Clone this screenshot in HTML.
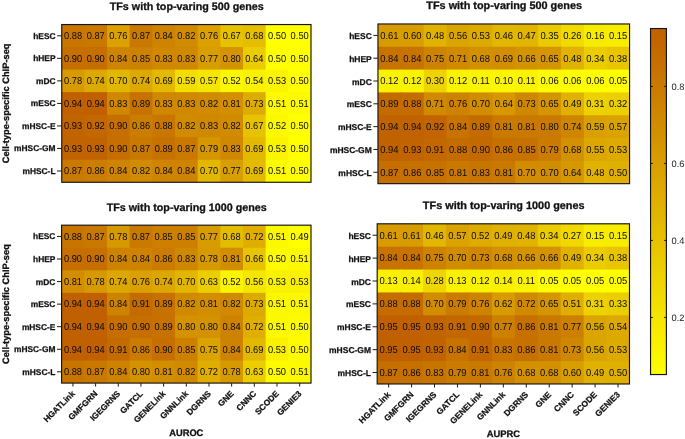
<!DOCTYPE html>
<html><head><meta charset="utf-8"><style>
html,body{margin:0;padding:0;background:#fff;width:685px;height:439px;overflow:hidden}
svg{display:block;will-change:transform}
text{font-family:'Liberation Sans', sans-serif;text-rendering:geometricPrecision}
.c{fill:#0c0c0c;text-anchor:middle}
.rl{font-weight:bold;fill:#111;stroke:#111;stroke-width:0.25px;text-anchor:end}
.tt{font-weight:bold;fill:#111;stroke:#111;stroke-width:0.3px;text-anchor:middle}
.xl{font-weight:bold;fill:#111;stroke:#111;stroke-width:0.25px;text-anchor:end}
.ax{font-weight:bold;fill:#111;stroke:#111;stroke-width:0.3px;text-anchor:middle}
.ay{font-weight:bold;fill:#111;stroke:#111;stroke-width:0.3px;text-anchor:middle}
.cb{font-size:9.3px;fill:#222}
.bd{stroke:#141414;stroke-width:1.15}
.tk{stroke:#1a1a1a;stroke-width:1}
</style></head><body>
<svg width="685" height="439" viewBox="0 0 685 439">
<rect x="61.74" y="24.54" width="23.66" height="23.53" fill="rgb(201,118,0)"/>
<rect x="84.40" y="24.54" width="23.66" height="23.53" fill="rgb(202,121,0)"/>
<rect x="107.06" y="24.54" width="23.66" height="23.53" fill="rgb(218,161,0)"/>
<rect x="129.72" y="24.54" width="23.66" height="23.53" fill="rgb(202,121,0)"/>
<rect x="152.38" y="24.54" width="23.66" height="23.53" fill="rgb(206,132,0)"/>
<rect x="175.04" y="24.54" width="23.66" height="23.53" fill="rgb(209,139,0)"/>
<rect x="197.70" y="24.54" width="23.66" height="23.53" fill="rgb(218,161,0)"/>
<rect x="220.36" y="24.54" width="23.66" height="23.53" fill="rgb(231,194,0)"/>
<rect x="243.02" y="24.54" width="23.66" height="23.53" fill="rgb(229,190,0)"/>
<rect x="265.68" y="24.54" width="23.66" height="23.53" fill="rgb(255,255,0)"/>
<rect x="288.34" y="24.54" width="22.66" height="23.53" fill="rgb(255,255,0)"/>
<rect x="61.74" y="47.07" width="23.66" height="23.53" fill="rgb(198,110,0)"/>
<rect x="84.40" y="47.07" width="23.66" height="23.53" fill="rgb(198,110,0)"/>
<rect x="107.06" y="47.07" width="23.66" height="23.53" fill="rgb(206,132,0)"/>
<rect x="129.72" y="47.07" width="23.66" height="23.53" fill="rgb(205,129,0)"/>
<rect x="152.38" y="47.07" width="23.66" height="23.53" fill="rgb(208,136,0)"/>
<rect x="175.04" y="47.07" width="23.66" height="23.53" fill="rgb(208,136,0)"/>
<rect x="197.70" y="47.07" width="23.66" height="23.53" fill="rgb(216,157,0)"/>
<rect x="220.36" y="47.07" width="23.66" height="23.53" fill="rgb(212,147,0)"/>
<rect x="243.02" y="47.07" width="23.66" height="23.53" fill="rgb(235,204,0)"/>
<rect x="265.68" y="47.07" width="23.66" height="23.53" fill="rgb(255,255,0)"/>
<rect x="288.34" y="47.07" width="22.66" height="23.53" fill="rgb(255,255,0)"/>
<rect x="61.74" y="69.61" width="23.66" height="23.53" fill="rgb(215,154,0)"/>
<rect x="84.40" y="69.61" width="23.66" height="23.53" fill="rgb(221,168,0)"/>
<rect x="107.06" y="69.61" width="23.66" height="23.53" fill="rgb(226,183,0)"/>
<rect x="129.72" y="69.61" width="23.66" height="23.53" fill="rgb(221,168,0)"/>
<rect x="152.38" y="69.61" width="23.66" height="23.53" fill="rgb(228,186,0)"/>
<rect x="175.04" y="69.61" width="23.66" height="23.53" fill="rgb(242,222,0)"/>
<rect x="197.70" y="69.61" width="23.66" height="23.53" fill="rgb(245,230,0)"/>
<rect x="220.36" y="69.61" width="23.66" height="23.53" fill="rgb(252,248,0)"/>
<rect x="243.02" y="69.61" width="23.66" height="23.53" fill="rgb(249,241,0)"/>
<rect x="265.68" y="69.61" width="23.66" height="23.53" fill="rgb(251,244,0)"/>
<rect x="288.34" y="69.61" width="22.66" height="23.53" fill="rgb(255,255,0)"/>
<rect x="61.74" y="92.14" width="23.66" height="23.53" fill="rgb(192,96,0)"/>
<rect x="84.40" y="92.14" width="23.66" height="23.53" fill="rgb(192,96,0)"/>
<rect x="107.06" y="92.14" width="23.66" height="23.53" fill="rgb(208,136,0)"/>
<rect x="129.72" y="92.14" width="23.66" height="23.53" fill="rgb(199,114,0)"/>
<rect x="152.38" y="92.14" width="23.66" height="23.53" fill="rgb(208,136,0)"/>
<rect x="175.04" y="92.14" width="23.66" height="23.53" fill="rgb(208,136,0)"/>
<rect x="197.70" y="92.14" width="23.66" height="23.53" fill="rgb(209,139,0)"/>
<rect x="220.36" y="92.14" width="23.66" height="23.53" fill="rgb(211,143,0)"/>
<rect x="243.02" y="92.14" width="23.66" height="23.53" fill="rgb(222,172,0)"/>
<rect x="265.68" y="92.14" width="23.66" height="23.53" fill="rgb(254,251,0)"/>
<rect x="288.34" y="92.14" width="22.66" height="23.53" fill="rgb(254,251,0)"/>
<rect x="61.74" y="114.67" width="23.66" height="23.53" fill="rgb(193,100,0)"/>
<rect x="84.40" y="114.67" width="23.66" height="23.53" fill="rgb(195,103,0)"/>
<rect x="107.06" y="114.67" width="23.66" height="23.53" fill="rgb(198,110,0)"/>
<rect x="129.72" y="114.67" width="23.66" height="23.53" fill="rgb(203,125,0)"/>
<rect x="152.38" y="114.67" width="23.66" height="23.53" fill="rgb(201,118,0)"/>
<rect x="175.04" y="114.67" width="23.66" height="23.53" fill="rgb(209,139,0)"/>
<rect x="197.70" y="114.67" width="23.66" height="23.53" fill="rgb(208,136,0)"/>
<rect x="220.36" y="114.67" width="23.66" height="23.53" fill="rgb(209,139,0)"/>
<rect x="243.02" y="114.67" width="23.66" height="23.53" fill="rgb(231,194,0)"/>
<rect x="265.68" y="114.67" width="23.66" height="23.53" fill="rgb(252,248,0)"/>
<rect x="288.34" y="114.67" width="22.66" height="23.53" fill="rgb(255,255,0)"/>
<rect x="61.74" y="137.20" width="23.66" height="23.53" fill="rgb(193,100,0)"/>
<rect x="84.40" y="137.20" width="23.66" height="23.53" fill="rgb(193,100,0)"/>
<rect x="107.06" y="137.20" width="23.66" height="23.53" fill="rgb(198,110,0)"/>
<rect x="129.72" y="137.20" width="23.66" height="23.53" fill="rgb(202,121,0)"/>
<rect x="152.38" y="137.20" width="23.66" height="23.53" fill="rgb(199,114,0)"/>
<rect x="175.04" y="137.20" width="23.66" height="23.53" fill="rgb(202,121,0)"/>
<rect x="197.70" y="137.20" width="23.66" height="23.53" fill="rgb(213,150,0)"/>
<rect x="220.36" y="137.20" width="23.66" height="23.53" fill="rgb(208,136,0)"/>
<rect x="243.02" y="137.20" width="23.66" height="23.53" fill="rgb(228,186,0)"/>
<rect x="265.68" y="137.20" width="23.66" height="23.53" fill="rgb(251,244,0)"/>
<rect x="288.34" y="137.20" width="22.66" height="23.53" fill="rgb(255,255,0)"/>
<rect x="61.74" y="159.74" width="23.66" height="22.53" fill="rgb(202,121,0)"/>
<rect x="84.40" y="159.74" width="23.66" height="22.53" fill="rgb(203,125,0)"/>
<rect x="107.06" y="159.74" width="23.66" height="22.53" fill="rgb(206,132,0)"/>
<rect x="129.72" y="159.74" width="23.66" height="22.53" fill="rgb(209,139,0)"/>
<rect x="152.38" y="159.74" width="23.66" height="22.53" fill="rgb(206,132,0)"/>
<rect x="175.04" y="159.74" width="23.66" height="22.53" fill="rgb(206,132,0)"/>
<rect x="197.70" y="159.74" width="23.66" height="22.53" fill="rgb(226,183,0)"/>
<rect x="220.36" y="159.74" width="23.66" height="22.53" fill="rgb(216,157,0)"/>
<rect x="243.02" y="159.74" width="23.66" height="22.53" fill="rgb(228,186,0)"/>
<rect x="265.68" y="159.74" width="23.66" height="22.53" fill="rgb(254,251,0)"/>
<rect x="288.34" y="159.74" width="22.66" height="22.53" fill="rgb(255,255,0)"/>
<text transform="translate(73.07,35.81) scale(1,1.084)" y="3.05" class="c" font-size="9.30">0.88</text>
<text transform="translate(95.73,35.81) scale(1,1.084)" y="3.05" class="c" font-size="9.30">0.87</text>
<text transform="translate(118.39,35.81) scale(1,1.084)" y="3.05" class="c" font-size="9.30">0.76</text>
<text transform="translate(141.05,35.81) scale(1,1.084)" y="3.05" class="c" font-size="9.30">0.87</text>
<text transform="translate(163.71,35.81) scale(1,1.084)" y="3.05" class="c" font-size="9.30">0.84</text>
<text transform="translate(186.37,35.81) scale(1,1.084)" y="3.05" class="c" font-size="9.30">0.82</text>
<text transform="translate(209.03,35.81) scale(1,1.084)" y="3.05" class="c" font-size="9.30">0.76</text>
<text transform="translate(231.69,35.81) scale(1,1.084)" y="3.05" class="c" font-size="9.30">0.67</text>
<text transform="translate(254.35,35.81) scale(1,1.084)" y="3.05" class="c" font-size="9.30">0.68</text>
<text transform="translate(277.01,35.81) scale(1,1.084)" y="3.05" class="c" font-size="9.30">0.50</text>
<text transform="translate(299.67,35.81) scale(1,1.084)" y="3.05" class="c" font-size="9.30">0.50</text>
<text transform="translate(73.07,58.34) scale(1,1.084)" y="3.05" class="c" font-size="9.30">0.90</text>
<text transform="translate(95.73,58.34) scale(1,1.084)" y="3.05" class="c" font-size="9.30">0.90</text>
<text transform="translate(118.39,58.34) scale(1,1.084)" y="3.05" class="c" font-size="9.30">0.84</text>
<text transform="translate(141.05,58.34) scale(1,1.084)" y="3.05" class="c" font-size="9.30">0.85</text>
<text transform="translate(163.71,58.34) scale(1,1.084)" y="3.05" class="c" font-size="9.30">0.83</text>
<text transform="translate(186.37,58.34) scale(1,1.084)" y="3.05" class="c" font-size="9.30">0.83</text>
<text transform="translate(209.03,58.34) scale(1,1.084)" y="3.05" class="c" font-size="9.30">0.77</text>
<text transform="translate(231.69,58.34) scale(1,1.084)" y="3.05" class="c" font-size="9.30">0.80</text>
<text transform="translate(254.35,58.34) scale(1,1.084)" y="3.05" class="c" font-size="9.30">0.64</text>
<text transform="translate(277.01,58.34) scale(1,1.084)" y="3.05" class="c" font-size="9.30">0.50</text>
<text transform="translate(299.67,58.34) scale(1,1.084)" y="3.05" class="c" font-size="9.30">0.50</text>
<text transform="translate(73.07,80.87) scale(1,1.084)" y="3.05" class="c" font-size="9.30">0.78</text>
<text transform="translate(95.73,80.87) scale(1,1.084)" y="3.05" class="c" font-size="9.30">0.74</text>
<text transform="translate(118.39,80.87) scale(1,1.084)" y="3.05" class="c" font-size="9.30">0.70</text>
<text transform="translate(141.05,80.87) scale(1,1.084)" y="3.05" class="c" font-size="9.30">0.74</text>
<text transform="translate(163.71,80.87) scale(1,1.084)" y="3.05" class="c" font-size="9.30">0.69</text>
<text transform="translate(186.37,80.87) scale(1,1.084)" y="3.05" class="c" font-size="9.30">0.59</text>
<text transform="translate(209.03,80.87) scale(1,1.084)" y="3.05" class="c" font-size="9.30">0.57</text>
<text transform="translate(231.69,80.87) scale(1,1.084)" y="3.05" class="c" font-size="9.30">0.52</text>
<text transform="translate(254.35,80.87) scale(1,1.084)" y="3.05" class="c" font-size="9.30">0.54</text>
<text transform="translate(277.01,80.87) scale(1,1.084)" y="3.05" class="c" font-size="9.30">0.53</text>
<text transform="translate(299.67,80.87) scale(1,1.084)" y="3.05" class="c" font-size="9.30">0.50</text>
<text transform="translate(73.07,103.41) scale(1,1.084)" y="3.05" class="c" font-size="9.30">0.94</text>
<text transform="translate(95.73,103.41) scale(1,1.084)" y="3.05" class="c" font-size="9.30">0.94</text>
<text transform="translate(118.39,103.41) scale(1,1.084)" y="3.05" class="c" font-size="9.30">0.83</text>
<text transform="translate(141.05,103.41) scale(1,1.084)" y="3.05" class="c" font-size="9.30">0.89</text>
<text transform="translate(163.71,103.41) scale(1,1.084)" y="3.05" class="c" font-size="9.30">0.83</text>
<text transform="translate(186.37,103.41) scale(1,1.084)" y="3.05" class="c" font-size="9.30">0.83</text>
<text transform="translate(209.03,103.41) scale(1,1.084)" y="3.05" class="c" font-size="9.30">0.82</text>
<text transform="translate(231.69,103.41) scale(1,1.084)" y="3.05" class="c" font-size="9.30">0.81</text>
<text transform="translate(254.35,103.41) scale(1,1.084)" y="3.05" class="c" font-size="9.30">0.73</text>
<text transform="translate(277.01,103.41) scale(1,1.084)" y="3.05" class="c" font-size="9.30">0.51</text>
<text transform="translate(299.67,103.41) scale(1,1.084)" y="3.05" class="c" font-size="9.30">0.51</text>
<text transform="translate(73.07,125.94) scale(1,1.084)" y="3.05" class="c" font-size="9.30">0.93</text>
<text transform="translate(95.73,125.94) scale(1,1.084)" y="3.05" class="c" font-size="9.30">0.92</text>
<text transform="translate(118.39,125.94) scale(1,1.084)" y="3.05" class="c" font-size="9.30">0.90</text>
<text transform="translate(141.05,125.94) scale(1,1.084)" y="3.05" class="c" font-size="9.30">0.86</text>
<text transform="translate(163.71,125.94) scale(1,1.084)" y="3.05" class="c" font-size="9.30">0.88</text>
<text transform="translate(186.37,125.94) scale(1,1.084)" y="3.05" class="c" font-size="9.30">0.82</text>
<text transform="translate(209.03,125.94) scale(1,1.084)" y="3.05" class="c" font-size="9.30">0.83</text>
<text transform="translate(231.69,125.94) scale(1,1.084)" y="3.05" class="c" font-size="9.30">0.82</text>
<text transform="translate(254.35,125.94) scale(1,1.084)" y="3.05" class="c" font-size="9.30">0.67</text>
<text transform="translate(277.01,125.94) scale(1,1.084)" y="3.05" class="c" font-size="9.30">0.52</text>
<text transform="translate(299.67,125.94) scale(1,1.084)" y="3.05" class="c" font-size="9.30">0.50</text>
<text transform="translate(73.07,148.47) scale(1,1.084)" y="3.05" class="c" font-size="9.30">0.93</text>
<text transform="translate(95.73,148.47) scale(1,1.084)" y="3.05" class="c" font-size="9.30">0.93</text>
<text transform="translate(118.39,148.47) scale(1,1.084)" y="3.05" class="c" font-size="9.30">0.90</text>
<text transform="translate(141.05,148.47) scale(1,1.084)" y="3.05" class="c" font-size="9.30">0.87</text>
<text transform="translate(163.71,148.47) scale(1,1.084)" y="3.05" class="c" font-size="9.30">0.89</text>
<text transform="translate(186.37,148.47) scale(1,1.084)" y="3.05" class="c" font-size="9.30">0.87</text>
<text transform="translate(209.03,148.47) scale(1,1.084)" y="3.05" class="c" font-size="9.30">0.79</text>
<text transform="translate(231.69,148.47) scale(1,1.084)" y="3.05" class="c" font-size="9.30">0.83</text>
<text transform="translate(254.35,148.47) scale(1,1.084)" y="3.05" class="c" font-size="9.30">0.69</text>
<text transform="translate(277.01,148.47) scale(1,1.084)" y="3.05" class="c" font-size="9.30">0.53</text>
<text transform="translate(299.67,148.47) scale(1,1.084)" y="3.05" class="c" font-size="9.30">0.50</text>
<text transform="translate(73.07,171.00) scale(1,1.084)" y="3.05" class="c" font-size="9.30">0.87</text>
<text transform="translate(95.73,171.00) scale(1,1.084)" y="3.05" class="c" font-size="9.30">0.86</text>
<text transform="translate(118.39,171.00) scale(1,1.084)" y="3.05" class="c" font-size="9.30">0.84</text>
<text transform="translate(141.05,171.00) scale(1,1.084)" y="3.05" class="c" font-size="9.30">0.82</text>
<text transform="translate(163.71,171.00) scale(1,1.084)" y="3.05" class="c" font-size="9.30">0.84</text>
<text transform="translate(186.37,171.00) scale(1,1.084)" y="3.05" class="c" font-size="9.30">0.84</text>
<text transform="translate(209.03,171.00) scale(1,1.084)" y="3.05" class="c" font-size="9.30">0.70</text>
<text transform="translate(231.69,171.00) scale(1,1.084)" y="3.05" class="c" font-size="9.30">0.77</text>
<text transform="translate(254.35,171.00) scale(1,1.084)" y="3.05" class="c" font-size="9.30">0.69</text>
<text transform="translate(277.01,171.00) scale(1,1.084)" y="3.05" class="c" font-size="9.30">0.51</text>
<text transform="translate(299.67,171.00) scale(1,1.084)" y="3.05" class="c" font-size="9.30">0.50</text>
<rect x="61.74" y="24.54" width="249.26" height="157.73" class="bd" fill="none"/>
<line x1="57.14" y1="35.81" x2="61.74" y2="35.81" class="tk"/>
<text x="55.54" y="38.81" class="rl" font-size="8.40">hESC</text>
<line x1="57.14" y1="58.34" x2="61.74" y2="58.34" class="tk"/>
<text x="55.54" y="61.35" class="rl" font-size="8.40">hHEP</text>
<line x1="57.14" y1="80.87" x2="61.74" y2="80.87" class="tk"/>
<text x="55.54" y="83.88" class="rl" font-size="8.40">mDC</text>
<line x1="57.14" y1="103.41" x2="61.74" y2="103.41" class="tk"/>
<text x="55.54" y="106.41" class="rl" font-size="8.40">mESC</text>
<line x1="57.14" y1="125.94" x2="61.74" y2="125.94" class="tk"/>
<text x="55.54" y="128.95" class="rl" font-size="8.40">mHSC-E</text>
<line x1="57.14" y1="148.47" x2="61.74" y2="148.47" class="tk"/>
<text x="55.54" y="151.48" class="rl" font-size="8.40">mHSC-GM</text>
<line x1="57.14" y1="171.00" x2="61.74" y2="171.00" class="tk"/>
<text x="55.54" y="174.01" class="rl" font-size="8.40">mHSC-L</text>
<text x="186.77" y="9.70" class="tt" font-size="10.75">TFs with top-varing 500 genes</text>
<text transform="translate(9.10,103.41) rotate(-90)" class="ay" font-size="9.30">Cell-type-specific ChIP-seq</text>
<rect x="377.97" y="23.97" width="23.87" height="23.81" fill="rgb(216,156,0)"/>
<rect x="400.84" y="23.97" width="23.87" height="23.81" fill="rgb(216,158,0)"/>
<rect x="423.72" y="23.97" width="23.87" height="23.81" fill="rgb(225,179,0)"/>
<rect x="446.59" y="23.97" width="23.87" height="23.81" fill="rgb(219,165,0)"/>
<rect x="469.46" y="23.97" width="23.87" height="23.81" fill="rgb(221,170,0)"/>
<rect x="492.33" y="23.97" width="23.87" height="23.81" fill="rgb(226,183,0)"/>
<rect x="515.21" y="23.97" width="23.87" height="23.81" fill="rgb(226,181,0)"/>
<rect x="538.08" y="23.97" width="23.87" height="23.81" fill="rgb(234,202,0)"/>
<rect x="560.95" y="23.97" width="23.87" height="23.81" fill="rgb(240,218,0)"/>
<rect x="583.82" y="23.97" width="23.87" height="23.81" fill="rgb(247,236,0)"/>
<rect x="606.70" y="23.97" width="22.87" height="23.81" fill="rgb(248,237,0)"/>
<rect x="377.97" y="46.78" width="23.87" height="23.81" fill="rgb(200,115,0)"/>
<rect x="400.84" y="46.78" width="23.87" height="23.81" fill="rgb(200,115,0)"/>
<rect x="423.72" y="46.78" width="23.87" height="23.81" fill="rgb(206,131,0)"/>
<rect x="446.59" y="46.78" width="23.87" height="23.81" fill="rgb(209,138,0)"/>
<rect x="469.46" y="46.78" width="23.87" height="23.81" fill="rgb(211,144,0)"/>
<rect x="492.33" y="46.78" width="23.87" height="23.81" fill="rgb(210,142,0)"/>
<rect x="515.21" y="46.78" width="23.87" height="23.81" fill="rgb(212,147,0)"/>
<rect x="538.08" y="46.78" width="23.87" height="23.81" fill="rgb(213,149,0)"/>
<rect x="560.95" y="46.78" width="23.87" height="23.81" fill="rgb(225,179,0)"/>
<rect x="583.82" y="46.78" width="23.87" height="23.81" fill="rgb(235,204,0)"/>
<rect x="606.70" y="46.78" width="22.87" height="23.81" fill="rgb(232,197,0)"/>
<rect x="377.97" y="69.60" width="23.87" height="23.81" fill="rgb(250,243,0)"/>
<rect x="400.84" y="69.60" width="23.87" height="23.81" fill="rgb(250,243,0)"/>
<rect x="423.72" y="69.60" width="23.87" height="23.81" fill="rgb(238,211,0)"/>
<rect x="446.59" y="69.60" width="23.87" height="23.81" fill="rgb(250,243,0)"/>
<rect x="469.46" y="69.60" width="23.87" height="23.81" fill="rgb(251,244,0)"/>
<rect x="492.33" y="69.60" width="23.87" height="23.81" fill="rgb(252,246,0)"/>
<rect x="515.21" y="69.60" width="23.87" height="23.81" fill="rgb(251,244,0)"/>
<rect x="538.08" y="69.60" width="23.87" height="23.81" fill="rgb(254,253,0)"/>
<rect x="560.95" y="69.60" width="23.87" height="23.81" fill="rgb(254,253,0)"/>
<rect x="583.82" y="69.60" width="23.87" height="23.81" fill="rgb(254,253,0)"/>
<rect x="606.70" y="69.60" width="22.87" height="23.81" fill="rgb(255,255,0)"/>
<rect x="377.97" y="92.41" width="23.87" height="23.81" fill="rgb(196,107,0)"/>
<rect x="400.84" y="92.41" width="23.87" height="23.81" fill="rgb(197,108,0)"/>
<rect x="423.72" y="92.41" width="23.87" height="23.81" fill="rgb(209,138,0)"/>
<rect x="446.59" y="92.41" width="23.87" height="23.81" fill="rgb(205,130,0)"/>
<rect x="469.46" y="92.41" width="23.87" height="23.81" fill="rgb(210,140,0)"/>
<rect x="492.33" y="92.41" width="23.87" height="23.81" fill="rgb(214,151,0)"/>
<rect x="515.21" y="92.41" width="23.87" height="23.81" fill="rgb(207,135,0)"/>
<rect x="538.08" y="92.41" width="23.87" height="23.81" fill="rgb(213,149,0)"/>
<rect x="560.95" y="92.41" width="23.87" height="23.81" fill="rgb(224,177,0)"/>
<rect x="583.82" y="92.41" width="23.87" height="23.81" fill="rgb(237,209,0)"/>
<rect x="606.70" y="92.41" width="22.87" height="23.81" fill="rgb(236,207,0)"/>
<rect x="377.97" y="115.22" width="23.87" height="23.81" fill="rgb(193,98,0)"/>
<rect x="400.84" y="115.22" width="23.87" height="23.81" fill="rgb(193,98,0)"/>
<rect x="423.72" y="115.22" width="23.87" height="23.81" fill="rgb(194,101,0)"/>
<rect x="446.59" y="115.22" width="23.87" height="23.81" fill="rgb(200,115,0)"/>
<rect x="469.46" y="115.22" width="23.87" height="23.81" fill="rgb(196,107,0)"/>
<rect x="492.33" y="115.22" width="23.87" height="23.81" fill="rgb(202,121,0)"/>
<rect x="515.21" y="115.22" width="23.87" height="23.81" fill="rgb(202,121,0)"/>
<rect x="538.08" y="115.22" width="23.87" height="23.81" fill="rgb(202,122,0)"/>
<rect x="560.95" y="115.22" width="23.87" height="23.81" fill="rgb(207,133,0)"/>
<rect x="583.82" y="115.22" width="23.87" height="23.81" fill="rgb(217,160,0)"/>
<rect x="606.70" y="115.22" width="22.87" height="23.81" fill="rgb(219,163,0)"/>
<rect x="377.97" y="138.03" width="23.87" height="23.81" fill="rgb(193,98,0)"/>
<rect x="400.84" y="138.03" width="23.87" height="23.81" fill="rgb(193,100,0)"/>
<rect x="423.72" y="138.03" width="23.87" height="23.81" fill="rgb(195,103,0)"/>
<rect x="446.59" y="138.03" width="23.87" height="23.81" fill="rgb(197,108,0)"/>
<rect x="469.46" y="138.03" width="23.87" height="23.81" fill="rgb(196,105,0)"/>
<rect x="492.33" y="138.03" width="23.87" height="23.81" fill="rgb(198,112,0)"/>
<rect x="515.21" y="138.03" width="23.87" height="23.81" fill="rgb(199,114,0)"/>
<rect x="538.08" y="138.03" width="23.87" height="23.81" fill="rgb(203,124,0)"/>
<rect x="560.95" y="138.03" width="23.87" height="23.81" fill="rgb(211,144,0)"/>
<rect x="583.82" y="138.03" width="23.87" height="23.81" fill="rgb(220,167,0)"/>
<rect x="606.70" y="138.03" width="22.87" height="23.81" fill="rgb(221,170,0)"/>
<rect x="377.97" y="160.85" width="23.87" height="22.81" fill="rgb(198,110,0)"/>
<rect x="400.84" y="160.85" width="23.87" height="22.81" fill="rgb(198,112,0)"/>
<rect x="423.72" y="160.85" width="23.87" height="22.81" fill="rgb(199,114,0)"/>
<rect x="446.59" y="160.85" width="23.87" height="22.81" fill="rgb(202,121,0)"/>
<rect x="469.46" y="160.85" width="23.87" height="22.81" fill="rgb(200,117,0)"/>
<rect x="492.33" y="160.85" width="23.87" height="22.81" fill="rgb(202,121,0)"/>
<rect x="515.21" y="160.85" width="23.87" height="22.81" fill="rgb(210,140,0)"/>
<rect x="538.08" y="160.85" width="23.87" height="22.81" fill="rgb(210,140,0)"/>
<rect x="560.95" y="160.85" width="23.87" height="22.81" fill="rgb(214,151,0)"/>
<rect x="583.82" y="160.85" width="23.87" height="22.81" fill="rgb(225,179,0)"/>
<rect x="606.70" y="160.85" width="22.87" height="22.81" fill="rgb(224,176,0)"/>
<text transform="translate(389.41,35.38) scale(1,1.084)" y="3.09" class="c" font-size="9.39">0.61</text>
<text transform="translate(412.28,35.38) scale(1,1.084)" y="3.09" class="c" font-size="9.39">0.60</text>
<text transform="translate(435.15,35.38) scale(1,1.084)" y="3.09" class="c" font-size="9.39">0.48</text>
<text transform="translate(458.02,35.38) scale(1,1.084)" y="3.09" class="c" font-size="9.39">0.56</text>
<text transform="translate(480.90,35.38) scale(1,1.084)" y="3.09" class="c" font-size="9.39">0.53</text>
<text transform="translate(503.77,35.38) scale(1,1.084)" y="3.09" class="c" font-size="9.39">0.46</text>
<text transform="translate(526.64,35.38) scale(1,1.084)" y="3.09" class="c" font-size="9.39">0.47</text>
<text transform="translate(549.52,35.38) scale(1,1.084)" y="3.09" class="c" font-size="9.39">0.35</text>
<text transform="translate(572.39,35.38) scale(1,1.084)" y="3.09" class="c" font-size="9.39">0.26</text>
<text transform="translate(595.26,35.38) scale(1,1.084)" y="3.09" class="c" font-size="9.39">0.16</text>
<text transform="translate(618.13,35.38) scale(1,1.084)" y="3.09" class="c" font-size="9.39">0.15</text>
<text transform="translate(389.41,58.19) scale(1,1.084)" y="3.09" class="c" font-size="9.39">0.84</text>
<text transform="translate(412.28,58.19) scale(1,1.084)" y="3.09" class="c" font-size="9.39">0.84</text>
<text transform="translate(435.15,58.19) scale(1,1.084)" y="3.09" class="c" font-size="9.39">0.75</text>
<text transform="translate(458.02,58.19) scale(1,1.084)" y="3.09" class="c" font-size="9.39">0.71</text>
<text transform="translate(480.90,58.19) scale(1,1.084)" y="3.09" class="c" font-size="9.39">0.68</text>
<text transform="translate(503.77,58.19) scale(1,1.084)" y="3.09" class="c" font-size="9.39">0.69</text>
<text transform="translate(526.64,58.19) scale(1,1.084)" y="3.09" class="c" font-size="9.39">0.66</text>
<text transform="translate(549.52,58.19) scale(1,1.084)" y="3.09" class="c" font-size="9.39">0.65</text>
<text transform="translate(572.39,58.19) scale(1,1.084)" y="3.09" class="c" font-size="9.39">0.48</text>
<text transform="translate(595.26,58.19) scale(1,1.084)" y="3.09" class="c" font-size="9.39">0.34</text>
<text transform="translate(618.13,58.19) scale(1,1.084)" y="3.09" class="c" font-size="9.39">0.38</text>
<text transform="translate(389.41,81.00) scale(1,1.084)" y="3.09" class="c" font-size="9.39">0.12</text>
<text transform="translate(412.28,81.00) scale(1,1.084)" y="3.09" class="c" font-size="9.39">0.12</text>
<text transform="translate(435.15,81.00) scale(1,1.084)" y="3.09" class="c" font-size="9.39">0.30</text>
<text transform="translate(458.02,81.00) scale(1,1.084)" y="3.09" class="c" font-size="9.39">0.12</text>
<text transform="translate(480.90,81.00) scale(1,1.084)" y="3.09" class="c" font-size="9.39">0.11</text>
<text transform="translate(503.77,81.00) scale(1,1.084)" y="3.09" class="c" font-size="9.39">0.10</text>
<text transform="translate(526.64,81.00) scale(1,1.084)" y="3.09" class="c" font-size="9.39">0.11</text>
<text transform="translate(549.52,81.00) scale(1,1.084)" y="3.09" class="c" font-size="9.39">0.06</text>
<text transform="translate(572.39,81.00) scale(1,1.084)" y="3.09" class="c" font-size="9.39">0.06</text>
<text transform="translate(595.26,81.00) scale(1,1.084)" y="3.09" class="c" font-size="9.39">0.06</text>
<text transform="translate(618.13,81.00) scale(1,1.084)" y="3.09" class="c" font-size="9.39">0.05</text>
<text transform="translate(389.41,103.81) scale(1,1.084)" y="3.09" class="c" font-size="9.39">0.89</text>
<text transform="translate(412.28,103.81) scale(1,1.084)" y="3.09" class="c" font-size="9.39">0.88</text>
<text transform="translate(435.15,103.81) scale(1,1.084)" y="3.09" class="c" font-size="9.39">0.71</text>
<text transform="translate(458.02,103.81) scale(1,1.084)" y="3.09" class="c" font-size="9.39">0.76</text>
<text transform="translate(480.90,103.81) scale(1,1.084)" y="3.09" class="c" font-size="9.39">0.70</text>
<text transform="translate(503.77,103.81) scale(1,1.084)" y="3.09" class="c" font-size="9.39">0.64</text>
<text transform="translate(526.64,103.81) scale(1,1.084)" y="3.09" class="c" font-size="9.39">0.73</text>
<text transform="translate(549.52,103.81) scale(1,1.084)" y="3.09" class="c" font-size="9.39">0.65</text>
<text transform="translate(572.39,103.81) scale(1,1.084)" y="3.09" class="c" font-size="9.39">0.49</text>
<text transform="translate(595.26,103.81) scale(1,1.084)" y="3.09" class="c" font-size="9.39">0.31</text>
<text transform="translate(618.13,103.81) scale(1,1.084)" y="3.09" class="c" font-size="9.39">0.32</text>
<text transform="translate(389.41,126.63) scale(1,1.084)" y="3.09" class="c" font-size="9.39">0.94</text>
<text transform="translate(412.28,126.63) scale(1,1.084)" y="3.09" class="c" font-size="9.39">0.94</text>
<text transform="translate(435.15,126.63) scale(1,1.084)" y="3.09" class="c" font-size="9.39">0.92</text>
<text transform="translate(458.02,126.63) scale(1,1.084)" y="3.09" class="c" font-size="9.39">0.84</text>
<text transform="translate(480.90,126.63) scale(1,1.084)" y="3.09" class="c" font-size="9.39">0.89</text>
<text transform="translate(503.77,126.63) scale(1,1.084)" y="3.09" class="c" font-size="9.39">0.81</text>
<text transform="translate(526.64,126.63) scale(1,1.084)" y="3.09" class="c" font-size="9.39">0.81</text>
<text transform="translate(549.52,126.63) scale(1,1.084)" y="3.09" class="c" font-size="9.39">0.80</text>
<text transform="translate(572.39,126.63) scale(1,1.084)" y="3.09" class="c" font-size="9.39">0.74</text>
<text transform="translate(595.26,126.63) scale(1,1.084)" y="3.09" class="c" font-size="9.39">0.59</text>
<text transform="translate(618.13,126.63) scale(1,1.084)" y="3.09" class="c" font-size="9.39">0.57</text>
<text transform="translate(389.41,149.44) scale(1,1.084)" y="3.09" class="c" font-size="9.39">0.94</text>
<text transform="translate(412.28,149.44) scale(1,1.084)" y="3.09" class="c" font-size="9.39">0.93</text>
<text transform="translate(435.15,149.44) scale(1,1.084)" y="3.09" class="c" font-size="9.39">0.91</text>
<text transform="translate(458.02,149.44) scale(1,1.084)" y="3.09" class="c" font-size="9.39">0.88</text>
<text transform="translate(480.90,149.44) scale(1,1.084)" y="3.09" class="c" font-size="9.39">0.90</text>
<text transform="translate(503.77,149.44) scale(1,1.084)" y="3.09" class="c" font-size="9.39">0.86</text>
<text transform="translate(526.64,149.44) scale(1,1.084)" y="3.09" class="c" font-size="9.39">0.85</text>
<text transform="translate(549.52,149.44) scale(1,1.084)" y="3.09" class="c" font-size="9.39">0.79</text>
<text transform="translate(572.39,149.44) scale(1,1.084)" y="3.09" class="c" font-size="9.39">0.68</text>
<text transform="translate(595.26,149.44) scale(1,1.084)" y="3.09" class="c" font-size="9.39">0.55</text>
<text transform="translate(618.13,149.44) scale(1,1.084)" y="3.09" class="c" font-size="9.39">0.53</text>
<text transform="translate(389.41,172.25) scale(1,1.084)" y="3.09" class="c" font-size="9.39">0.87</text>
<text transform="translate(412.28,172.25) scale(1,1.084)" y="3.09" class="c" font-size="9.39">0.86</text>
<text transform="translate(435.15,172.25) scale(1,1.084)" y="3.09" class="c" font-size="9.39">0.85</text>
<text transform="translate(458.02,172.25) scale(1,1.084)" y="3.09" class="c" font-size="9.39">0.81</text>
<text transform="translate(480.90,172.25) scale(1,1.084)" y="3.09" class="c" font-size="9.39">0.83</text>
<text transform="translate(503.77,172.25) scale(1,1.084)" y="3.09" class="c" font-size="9.39">0.81</text>
<text transform="translate(526.64,172.25) scale(1,1.084)" y="3.09" class="c" font-size="9.39">0.70</text>
<text transform="translate(549.52,172.25) scale(1,1.084)" y="3.09" class="c" font-size="9.39">0.70</text>
<text transform="translate(572.39,172.25) scale(1,1.084)" y="3.09" class="c" font-size="9.39">0.64</text>
<text transform="translate(595.26,172.25) scale(1,1.084)" y="3.09" class="c" font-size="9.39">0.48</text>
<text transform="translate(618.13,172.25) scale(1,1.084)" y="3.09" class="c" font-size="9.39">0.50</text>
<rect x="377.97" y="23.97" width="251.60" height="159.69" class="bd" fill="none"/>
<line x1="373.37" y1="35.38" x2="377.97" y2="35.38" class="tk"/>
<text x="371.77" y="38.91" class="rl" font-size="8.48">hESC</text>
<line x1="373.37" y1="58.19" x2="377.97" y2="58.19" class="tk"/>
<text x="371.77" y="61.73" class="rl" font-size="8.48">hHEP</text>
<line x1="373.37" y1="81.00" x2="377.97" y2="81.00" class="tk"/>
<text x="371.77" y="84.54" class="rl" font-size="8.48">mDC</text>
<line x1="373.37" y1="103.81" x2="377.97" y2="103.81" class="tk"/>
<text x="371.77" y="107.35" class="rl" font-size="8.48">mESC</text>
<line x1="373.37" y1="126.63" x2="377.97" y2="126.63" class="tk"/>
<text x="371.77" y="130.17" class="rl" font-size="8.48">mHSC-E</text>
<line x1="373.37" y1="149.44" x2="377.97" y2="149.44" class="tk"/>
<text x="371.77" y="152.98" class="rl" font-size="8.48">mHSC-GM</text>
<line x1="373.37" y1="172.25" x2="377.97" y2="172.25" class="tk"/>
<text x="371.77" y="175.79" class="rl" font-size="8.48">mHSC-L</text>
<text x="504.17" y="9.30" class="tt" font-size="10.86">TFs with top-varing 500 genes</text>
<rect x="61.60" y="225.18" width="23.67" height="23.56" fill="rgb(200,117,0)"/>
<rect x="84.27" y="225.18" width="23.67" height="23.56" fill="rgb(202,121,0)"/>
<rect x="106.95" y="225.18" width="23.67" height="23.56" fill="rgb(214,153,0)"/>
<rect x="129.62" y="225.18" width="23.67" height="23.56" fill="rgb(202,121,0)"/>
<rect x="152.29" y="225.18" width="23.67" height="23.56" fill="rgb(205,128,0)"/>
<rect x="174.96" y="225.18" width="23.67" height="23.56" fill="rgb(205,128,0)"/>
<rect x="197.64" y="225.18" width="23.67" height="23.56" fill="rgb(216,156,0)"/>
<rect x="220.31" y="225.18" width="23.67" height="23.56" fill="rgb(228,188,0)"/>
<rect x="242.98" y="225.18" width="23.67" height="23.56" fill="rgb(223,174,0)"/>
<rect x="265.65" y="225.18" width="23.67" height="23.56" fill="rgb(252,248,0)"/>
<rect x="288.33" y="225.18" width="22.67" height="23.56" fill="rgb(255,255,0)"/>
<rect x="61.60" y="247.74" width="23.67" height="23.56" fill="rgb(198,110,0)"/>
<rect x="84.27" y="247.74" width="23.67" height="23.56" fill="rgb(198,110,0)"/>
<rect x="106.95" y="247.74" width="23.67" height="23.56" fill="rgb(206,131,0)"/>
<rect x="129.62" y="247.74" width="23.67" height="23.56" fill="rgb(206,131,0)"/>
<rect x="152.29" y="247.74" width="23.67" height="23.56" fill="rgb(203,124,0)"/>
<rect x="174.96" y="247.74" width="23.67" height="23.56" fill="rgb(207,135,0)"/>
<rect x="197.64" y="247.74" width="23.67" height="23.56" fill="rgb(214,153,0)"/>
<rect x="220.31" y="247.74" width="23.67" height="23.56" fill="rgb(210,142,0)"/>
<rect x="242.98" y="247.74" width="23.67" height="23.56" fill="rgb(231,195,0)"/>
<rect x="265.65" y="247.74" width="23.67" height="23.56" fill="rgb(254,251,0)"/>
<rect x="288.33" y="247.74" width="22.67" height="23.56" fill="rgb(252,248,0)"/>
<rect x="61.60" y="270.29" width="23.67" height="23.56" fill="rgb(210,142,0)"/>
<rect x="84.27" y="270.29" width="23.67" height="23.56" fill="rgb(214,153,0)"/>
<rect x="106.95" y="270.29" width="23.67" height="23.56" fill="rgb(220,167,0)"/>
<rect x="129.62" y="270.29" width="23.67" height="23.56" fill="rgb(217,160,0)"/>
<rect x="152.29" y="270.29" width="23.67" height="23.56" fill="rgb(220,167,0)"/>
<rect x="174.96" y="270.29" width="23.67" height="23.56" fill="rgb(226,181,0)"/>
<rect x="197.64" y="270.29" width="23.67" height="23.56" fill="rgb(235,206,0)"/>
<rect x="220.31" y="270.29" width="23.67" height="23.56" fill="rgb(251,244,0)"/>
<rect x="242.98" y="270.29" width="23.67" height="23.56" fill="rgb(245,230,0)"/>
<rect x="265.65" y="270.29" width="23.67" height="23.56" fill="rgb(249,241,0)"/>
<rect x="288.33" y="270.29" width="22.67" height="23.56" fill="rgb(249,241,0)"/>
<rect x="61.60" y="292.85" width="23.67" height="23.56" fill="rgb(192,96,0)"/>
<rect x="84.27" y="292.85" width="23.67" height="23.56" fill="rgb(192,96,0)"/>
<rect x="106.95" y="292.85" width="23.67" height="23.56" fill="rgb(206,131,0)"/>
<rect x="129.62" y="292.85" width="23.67" height="23.56" fill="rgb(196,107,0)"/>
<rect x="152.29" y="292.85" width="23.67" height="23.56" fill="rgb(199,114,0)"/>
<rect x="174.96" y="292.85" width="23.67" height="23.56" fill="rgb(209,138,0)"/>
<rect x="197.64" y="292.85" width="23.67" height="23.56" fill="rgb(210,142,0)"/>
<rect x="220.31" y="292.85" width="23.67" height="23.56" fill="rgb(209,138,0)"/>
<rect x="242.98" y="292.85" width="23.67" height="23.56" fill="rgb(221,170,0)"/>
<rect x="265.65" y="292.85" width="23.67" height="23.56" fill="rgb(252,248,0)"/>
<rect x="288.33" y="292.85" width="22.67" height="23.56" fill="rgb(252,248,0)"/>
<rect x="61.60" y="315.41" width="23.67" height="23.56" fill="rgb(192,96,0)"/>
<rect x="84.27" y="315.41" width="23.67" height="23.56" fill="rgb(192,96,0)"/>
<rect x="106.95" y="315.41" width="23.67" height="23.56" fill="rgb(198,110,0)"/>
<rect x="129.62" y="315.41" width="23.67" height="23.56" fill="rgb(198,110,0)"/>
<rect x="152.29" y="315.41" width="23.67" height="23.56" fill="rgb(199,114,0)"/>
<rect x="174.96" y="315.41" width="23.67" height="23.56" fill="rgb(212,145,0)"/>
<rect x="197.64" y="315.41" width="23.67" height="23.56" fill="rgb(212,145,0)"/>
<rect x="220.31" y="315.41" width="23.67" height="23.56" fill="rgb(206,131,0)"/>
<rect x="242.98" y="315.41" width="23.67" height="23.56" fill="rgb(223,174,0)"/>
<rect x="265.65" y="315.41" width="23.67" height="23.56" fill="rgb(252,248,0)"/>
<rect x="288.33" y="315.41" width="22.67" height="23.56" fill="rgb(254,251,0)"/>
<rect x="61.60" y="337.97" width="23.67" height="23.56" fill="rgb(192,96,0)"/>
<rect x="84.27" y="337.97" width="23.67" height="23.56" fill="rgb(192,96,0)"/>
<rect x="106.95" y="337.97" width="23.67" height="23.56" fill="rgb(196,107,0)"/>
<rect x="129.62" y="337.97" width="23.67" height="23.56" fill="rgb(203,124,0)"/>
<rect x="152.29" y="337.97" width="23.67" height="23.56" fill="rgb(198,110,0)"/>
<rect x="174.96" y="337.97" width="23.67" height="23.56" fill="rgb(205,128,0)"/>
<rect x="197.64" y="337.97" width="23.67" height="23.56" fill="rgb(219,163,0)"/>
<rect x="220.31" y="337.97" width="23.67" height="23.56" fill="rgb(206,131,0)"/>
<rect x="242.98" y="337.97" width="23.67" height="23.56" fill="rgb(227,184,0)"/>
<rect x="265.65" y="337.97" width="23.67" height="23.56" fill="rgb(249,241,0)"/>
<rect x="288.33" y="337.97" width="22.67" height="23.56" fill="rgb(254,251,0)"/>
<rect x="61.60" y="360.52" width="23.67" height="22.56" fill="rgb(200,117,0)"/>
<rect x="84.27" y="360.52" width="23.67" height="22.56" fill="rgb(202,121,0)"/>
<rect x="106.95" y="360.52" width="23.67" height="22.56" fill="rgb(206,131,0)"/>
<rect x="129.62" y="360.52" width="23.67" height="22.56" fill="rgb(212,145,0)"/>
<rect x="152.29" y="360.52" width="23.67" height="22.56" fill="rgb(210,142,0)"/>
<rect x="174.96" y="360.52" width="23.67" height="22.56" fill="rgb(209,138,0)"/>
<rect x="197.64" y="360.52" width="23.67" height="22.56" fill="rgb(223,174,0)"/>
<rect x="220.31" y="360.52" width="23.67" height="22.56" fill="rgb(214,153,0)"/>
<rect x="242.98" y="360.52" width="23.67" height="22.56" fill="rgb(235,206,0)"/>
<rect x="265.65" y="360.52" width="23.67" height="22.56" fill="rgb(254,251,0)"/>
<rect x="288.33" y="360.52" width="22.67" height="22.56" fill="rgb(252,248,0)"/>
<text transform="translate(72.94,236.46) scale(1,1.084)" y="3.05" class="c" font-size="9.30">0.88</text>
<text transform="translate(95.61,236.46) scale(1,1.084)" y="3.05" class="c" font-size="9.30">0.87</text>
<text transform="translate(118.28,236.46) scale(1,1.084)" y="3.05" class="c" font-size="9.30">0.78</text>
<text transform="translate(140.95,236.46) scale(1,1.084)" y="3.05" class="c" font-size="9.30">0.87</text>
<text transform="translate(163.63,236.46) scale(1,1.084)" y="3.05" class="c" font-size="9.30">0.85</text>
<text transform="translate(186.30,236.46) scale(1,1.084)" y="3.05" class="c" font-size="9.30">0.85</text>
<text transform="translate(208.97,236.46) scale(1,1.084)" y="3.05" class="c" font-size="9.30">0.77</text>
<text transform="translate(231.65,236.46) scale(1,1.084)" y="3.05" class="c" font-size="9.30">0.68</text>
<text transform="translate(254.32,236.46) scale(1,1.084)" y="3.05" class="c" font-size="9.30">0.72</text>
<text transform="translate(276.99,236.46) scale(1,1.084)" y="3.05" class="c" font-size="9.30">0.51</text>
<text transform="translate(299.66,236.46) scale(1,1.084)" y="3.05" class="c" font-size="9.30">0.49</text>
<text transform="translate(72.94,259.02) scale(1,1.084)" y="3.05" class="c" font-size="9.30">0.90</text>
<text transform="translate(95.61,259.02) scale(1,1.084)" y="3.05" class="c" font-size="9.30">0.90</text>
<text transform="translate(118.28,259.02) scale(1,1.084)" y="3.05" class="c" font-size="9.30">0.84</text>
<text transform="translate(140.95,259.02) scale(1,1.084)" y="3.05" class="c" font-size="9.30">0.84</text>
<text transform="translate(163.63,259.02) scale(1,1.084)" y="3.05" class="c" font-size="9.30">0.86</text>
<text transform="translate(186.30,259.02) scale(1,1.084)" y="3.05" class="c" font-size="9.30">0.83</text>
<text transform="translate(208.97,259.02) scale(1,1.084)" y="3.05" class="c" font-size="9.30">0.78</text>
<text transform="translate(231.65,259.02) scale(1,1.084)" y="3.05" class="c" font-size="9.30">0.81</text>
<text transform="translate(254.32,259.02) scale(1,1.084)" y="3.05" class="c" font-size="9.30">0.66</text>
<text transform="translate(276.99,259.02) scale(1,1.084)" y="3.05" class="c" font-size="9.30">0.50</text>
<text transform="translate(299.66,259.02) scale(1,1.084)" y="3.05" class="c" font-size="9.30">0.51</text>
<text transform="translate(72.94,281.57) scale(1,1.084)" y="3.05" class="c" font-size="9.30">0.81</text>
<text transform="translate(95.61,281.57) scale(1,1.084)" y="3.05" class="c" font-size="9.30">0.78</text>
<text transform="translate(118.28,281.57) scale(1,1.084)" y="3.05" class="c" font-size="9.30">0.74</text>
<text transform="translate(140.95,281.57) scale(1,1.084)" y="3.05" class="c" font-size="9.30">0.76</text>
<text transform="translate(163.63,281.57) scale(1,1.084)" y="3.05" class="c" font-size="9.30">0.74</text>
<text transform="translate(186.30,281.57) scale(1,1.084)" y="3.05" class="c" font-size="9.30">0.70</text>
<text transform="translate(208.97,281.57) scale(1,1.084)" y="3.05" class="c" font-size="9.30">0.63</text>
<text transform="translate(231.65,281.57) scale(1,1.084)" y="3.05" class="c" font-size="9.30">0.52</text>
<text transform="translate(254.32,281.57) scale(1,1.084)" y="3.05" class="c" font-size="9.30">0.56</text>
<text transform="translate(276.99,281.57) scale(1,1.084)" y="3.05" class="c" font-size="9.30">0.53</text>
<text transform="translate(299.66,281.57) scale(1,1.084)" y="3.05" class="c" font-size="9.30">0.53</text>
<text transform="translate(72.94,304.13) scale(1,1.084)" y="3.05" class="c" font-size="9.30">0.94</text>
<text transform="translate(95.61,304.13) scale(1,1.084)" y="3.05" class="c" font-size="9.30">0.94</text>
<text transform="translate(118.28,304.13) scale(1,1.084)" y="3.05" class="c" font-size="9.30">0.84</text>
<text transform="translate(140.95,304.13) scale(1,1.084)" y="3.05" class="c" font-size="9.30">0.91</text>
<text transform="translate(163.63,304.13) scale(1,1.084)" y="3.05" class="c" font-size="9.30">0.89</text>
<text transform="translate(186.30,304.13) scale(1,1.084)" y="3.05" class="c" font-size="9.30">0.82</text>
<text transform="translate(208.97,304.13) scale(1,1.084)" y="3.05" class="c" font-size="9.30">0.81</text>
<text transform="translate(231.65,304.13) scale(1,1.084)" y="3.05" class="c" font-size="9.30">0.82</text>
<text transform="translate(254.32,304.13) scale(1,1.084)" y="3.05" class="c" font-size="9.30">0.73</text>
<text transform="translate(276.99,304.13) scale(1,1.084)" y="3.05" class="c" font-size="9.30">0.51</text>
<text transform="translate(299.66,304.13) scale(1,1.084)" y="3.05" class="c" font-size="9.30">0.51</text>
<text transform="translate(72.94,326.69) scale(1,1.084)" y="3.05" class="c" font-size="9.30">0.94</text>
<text transform="translate(95.61,326.69) scale(1,1.084)" y="3.05" class="c" font-size="9.30">0.94</text>
<text transform="translate(118.28,326.69) scale(1,1.084)" y="3.05" class="c" font-size="9.30">0.90</text>
<text transform="translate(140.95,326.69) scale(1,1.084)" y="3.05" class="c" font-size="9.30">0.90</text>
<text transform="translate(163.63,326.69) scale(1,1.084)" y="3.05" class="c" font-size="9.30">0.89</text>
<text transform="translate(186.30,326.69) scale(1,1.084)" y="3.05" class="c" font-size="9.30">0.80</text>
<text transform="translate(208.97,326.69) scale(1,1.084)" y="3.05" class="c" font-size="9.30">0.80</text>
<text transform="translate(231.65,326.69) scale(1,1.084)" y="3.05" class="c" font-size="9.30">0.84</text>
<text transform="translate(254.32,326.69) scale(1,1.084)" y="3.05" class="c" font-size="9.30">0.72</text>
<text transform="translate(276.99,326.69) scale(1,1.084)" y="3.05" class="c" font-size="9.30">0.51</text>
<text transform="translate(299.66,326.69) scale(1,1.084)" y="3.05" class="c" font-size="9.30">0.50</text>
<text transform="translate(72.94,349.24) scale(1,1.084)" y="3.05" class="c" font-size="9.30">0.94</text>
<text transform="translate(95.61,349.24) scale(1,1.084)" y="3.05" class="c" font-size="9.30">0.94</text>
<text transform="translate(118.28,349.24) scale(1,1.084)" y="3.05" class="c" font-size="9.30">0.91</text>
<text transform="translate(140.95,349.24) scale(1,1.084)" y="3.05" class="c" font-size="9.30">0.86</text>
<text transform="translate(163.63,349.24) scale(1,1.084)" y="3.05" class="c" font-size="9.30">0.90</text>
<text transform="translate(186.30,349.24) scale(1,1.084)" y="3.05" class="c" font-size="9.30">0.85</text>
<text transform="translate(208.97,349.24) scale(1,1.084)" y="3.05" class="c" font-size="9.30">0.75</text>
<text transform="translate(231.65,349.24) scale(1,1.084)" y="3.05" class="c" font-size="9.30">0.84</text>
<text transform="translate(254.32,349.24) scale(1,1.084)" y="3.05" class="c" font-size="9.30">0.69</text>
<text transform="translate(276.99,349.24) scale(1,1.084)" y="3.05" class="c" font-size="9.30">0.53</text>
<text transform="translate(299.66,349.24) scale(1,1.084)" y="3.05" class="c" font-size="9.30">0.50</text>
<text transform="translate(72.94,371.80) scale(1,1.084)" y="3.05" class="c" font-size="9.30">0.88</text>
<text transform="translate(95.61,371.80) scale(1,1.084)" y="3.05" class="c" font-size="9.30">0.87</text>
<text transform="translate(118.28,371.80) scale(1,1.084)" y="3.05" class="c" font-size="9.30">0.84</text>
<text transform="translate(140.95,371.80) scale(1,1.084)" y="3.05" class="c" font-size="9.30">0.80</text>
<text transform="translate(163.63,371.80) scale(1,1.084)" y="3.05" class="c" font-size="9.30">0.81</text>
<text transform="translate(186.30,371.80) scale(1,1.084)" y="3.05" class="c" font-size="9.30">0.82</text>
<text transform="translate(208.97,371.80) scale(1,1.084)" y="3.05" class="c" font-size="9.30">0.72</text>
<text transform="translate(231.65,371.80) scale(1,1.084)" y="3.05" class="c" font-size="9.30">0.78</text>
<text transform="translate(254.32,371.80) scale(1,1.084)" y="3.05" class="c" font-size="9.30">0.63</text>
<text transform="translate(276.99,371.80) scale(1,1.084)" y="3.05" class="c" font-size="9.30">0.50</text>
<text transform="translate(299.66,371.80) scale(1,1.084)" y="3.05" class="c" font-size="9.30">0.51</text>
<rect x="61.60" y="225.18" width="249.40" height="157.90" class="bd" fill="none"/>
<line x1="57.00" y1="236.46" x2="61.60" y2="236.46" class="tk"/>
<text x="55.40" y="239.47" class="rl" font-size="8.40">hESC</text>
<line x1="57.00" y1="259.02" x2="61.60" y2="259.02" class="tk"/>
<text x="55.40" y="262.02" class="rl" font-size="8.40">hHEP</text>
<line x1="57.00" y1="281.57" x2="61.60" y2="281.57" class="tk"/>
<text x="55.40" y="284.58" class="rl" font-size="8.40">mDC</text>
<line x1="57.00" y1="304.13" x2="61.60" y2="304.13" class="tk"/>
<text x="55.40" y="307.14" class="rl" font-size="8.40">mESC</text>
<line x1="57.00" y1="326.69" x2="61.60" y2="326.69" class="tk"/>
<text x="55.40" y="329.69" class="rl" font-size="8.40">mHSC-E</text>
<line x1="57.00" y1="349.24" x2="61.60" y2="349.24" class="tk"/>
<text x="55.40" y="352.25" class="rl" font-size="8.40">mHSC-GM</text>
<line x1="57.00" y1="371.80" x2="61.60" y2="371.80" class="tk"/>
<text x="55.40" y="374.81" class="rl" font-size="8.40">mHSC-L</text>
<text x="186.70" y="210.50" class="tt" font-size="10.75">TFs with top-varing 1000 genes</text>
<line x1="72.94" y1="383.08" x2="72.94" y2="386.58" class="tk"/>
<text transform="translate(75.44,394.28) rotate(-45)" class="xl" font-size="8.40">HGATLink</text>
<line x1="95.61" y1="383.08" x2="95.61" y2="386.58" class="tk"/>
<text transform="translate(98.11,394.28) rotate(-45)" class="xl" font-size="8.40">GMFGRN</text>
<line x1="118.28" y1="383.08" x2="118.28" y2="386.58" class="tk"/>
<text transform="translate(120.78,394.28) rotate(-45)" class="xl" font-size="8.40">IGEGRNS</text>
<line x1="140.95" y1="383.08" x2="140.95" y2="386.58" class="tk"/>
<text transform="translate(143.45,394.28) rotate(-45)" class="xl" font-size="8.40">GATCL</text>
<line x1="163.63" y1="383.08" x2="163.63" y2="386.58" class="tk"/>
<text transform="translate(166.13,394.28) rotate(-45)" class="xl" font-size="8.40">GENELink</text>
<line x1="186.30" y1="383.08" x2="186.30" y2="386.58" class="tk"/>
<text transform="translate(188.80,394.28) rotate(-45)" class="xl" font-size="8.40">GNNLink</text>
<line x1="208.97" y1="383.08" x2="208.97" y2="386.58" class="tk"/>
<text transform="translate(211.47,394.28) rotate(-45)" class="xl" font-size="8.40">DGRNS</text>
<line x1="231.65" y1="383.08" x2="231.65" y2="386.58" class="tk"/>
<text transform="translate(234.15,394.28) rotate(-45)" class="xl" font-size="8.40">GNE</text>
<line x1="254.32" y1="383.08" x2="254.32" y2="386.58" class="tk"/>
<text transform="translate(256.82,394.28) rotate(-45)" class="xl" font-size="8.40">CNNC</text>
<line x1="276.99" y1="383.08" x2="276.99" y2="386.58" class="tk"/>
<text transform="translate(279.49,394.28) rotate(-45)" class="xl" font-size="8.40">SCODE</text>
<line x1="299.66" y1="383.08" x2="299.66" y2="386.58" class="tk"/>
<text transform="translate(302.16,394.28) rotate(-45)" class="xl" font-size="8.40">GENIE3</text>
<text x="186.30" y="435.70" class="ax" font-size="9.30">AUROC</text>
<text transform="translate(9.10,304.13) rotate(-90)" class="ay" font-size="9.30">Cell-type-specific ChIP-seq</text>
<rect x="377.18" y="223.80" width="23.94" height="23.88" fill="rgb(216,156,0)"/>
<rect x="400.12" y="223.80" width="23.94" height="23.88" fill="rgb(216,156,0)"/>
<rect x="423.06" y="223.80" width="23.94" height="23.88" fill="rgb(226,183,0)"/>
<rect x="445.99" y="223.80" width="23.94" height="23.88" fill="rgb(219,163,0)"/>
<rect x="468.93" y="223.80" width="23.94" height="23.88" fill="rgb(222,172,0)"/>
<rect x="491.87" y="223.80" width="23.94" height="23.88" fill="rgb(224,177,0)"/>
<rect x="514.81" y="223.80" width="23.94" height="23.88" fill="rgb(225,179,0)"/>
<rect x="537.75" y="223.80" width="23.94" height="23.88" fill="rgb(235,204,0)"/>
<rect x="560.69" y="223.80" width="23.94" height="23.88" fill="rgb(240,216,0)"/>
<rect x="583.62" y="223.80" width="23.94" height="23.88" fill="rgb(248,237,0)"/>
<rect x="606.56" y="223.80" width="22.94" height="23.88" fill="rgb(248,237,0)"/>
<rect x="377.18" y="246.68" width="23.94" height="23.88" fill="rgb(200,115,0)"/>
<rect x="400.12" y="246.68" width="23.94" height="23.88" fill="rgb(200,115,0)"/>
<rect x="423.06" y="246.68" width="23.94" height="23.88" fill="rgb(206,131,0)"/>
<rect x="445.99" y="246.68" width="23.94" height="23.88" fill="rgb(210,140,0)"/>
<rect x="468.93" y="246.68" width="23.94" height="23.88" fill="rgb(207,135,0)"/>
<rect x="491.87" y="246.68" width="23.94" height="23.88" fill="rgb(211,144,0)"/>
<rect x="514.81" y="246.68" width="23.94" height="23.88" fill="rgb(212,147,0)"/>
<rect x="537.75" y="246.68" width="23.94" height="23.88" fill="rgb(212,147,0)"/>
<rect x="560.69" y="246.68" width="23.94" height="23.88" fill="rgb(224,177,0)"/>
<rect x="583.62" y="246.68" width="23.94" height="23.88" fill="rgb(235,204,0)"/>
<rect x="606.56" y="246.68" width="22.94" height="23.88" fill="rgb(232,197,0)"/>
<rect x="377.18" y="269.56" width="23.94" height="23.88" fill="rgb(249,241,0)"/>
<rect x="400.12" y="269.56" width="23.94" height="23.88" fill="rgb(249,239,0)"/>
<rect x="423.06" y="269.56" width="23.94" height="23.88" fill="rgb(239,214,0)"/>
<rect x="445.99" y="269.56" width="23.94" height="23.88" fill="rgb(249,241,0)"/>
<rect x="468.93" y="269.56" width="23.94" height="23.88" fill="rgb(250,243,0)"/>
<rect x="491.87" y="269.56" width="23.94" height="23.88" fill="rgb(249,239,0)"/>
<rect x="514.81" y="269.56" width="23.94" height="23.88" fill="rgb(251,244,0)"/>
<rect x="537.75" y="269.56" width="23.94" height="23.88" fill="rgb(255,255,0)"/>
<rect x="560.69" y="269.56" width="23.94" height="23.88" fill="rgb(255,255,0)"/>
<rect x="583.62" y="269.56" width="23.94" height="23.88" fill="rgb(255,255,0)"/>
<rect x="606.56" y="269.56" width="22.94" height="23.88" fill="rgb(255,255,0)"/>
<rect x="377.18" y="292.44" width="23.94" height="23.88" fill="rgb(197,108,0)"/>
<rect x="400.12" y="292.44" width="23.94" height="23.88" fill="rgb(197,108,0)"/>
<rect x="423.06" y="292.44" width="23.94" height="23.88" fill="rgb(210,140,0)"/>
<rect x="445.99" y="292.44" width="23.94" height="23.88" fill="rgb(203,124,0)"/>
<rect x="468.93" y="292.44" width="23.94" height="23.88" fill="rgb(205,130,0)"/>
<rect x="491.87" y="292.44" width="23.94" height="23.88" fill="rgb(215,154,0)"/>
<rect x="514.81" y="292.44" width="23.94" height="23.88" fill="rgb(208,137,0)"/>
<rect x="537.75" y="292.44" width="23.94" height="23.88" fill="rgb(213,149,0)"/>
<rect x="560.69" y="292.44" width="23.94" height="23.88" fill="rgb(223,174,0)"/>
<rect x="583.62" y="292.44" width="23.94" height="23.88" fill="rgb(237,209,0)"/>
<rect x="606.56" y="292.44" width="22.94" height="23.88" fill="rgb(235,206,0)"/>
<rect x="377.18" y="315.33" width="23.94" height="23.88" fill="rgb(192,96,0)"/>
<rect x="400.12" y="315.33" width="23.94" height="23.88" fill="rgb(192,96,0)"/>
<rect x="423.06" y="315.33" width="23.94" height="23.88" fill="rgb(193,100,0)"/>
<rect x="445.99" y="315.33" width="23.94" height="23.88" fill="rgb(195,103,0)"/>
<rect x="468.93" y="315.33" width="23.94" height="23.88" fill="rgb(196,105,0)"/>
<rect x="491.87" y="315.33" width="23.94" height="23.88" fill="rgb(205,128,0)"/>
<rect x="514.81" y="315.33" width="23.94" height="23.88" fill="rgb(198,112,0)"/>
<rect x="537.75" y="315.33" width="23.94" height="23.88" fill="rgb(202,121,0)"/>
<rect x="560.69" y="315.33" width="23.94" height="23.88" fill="rgb(205,128,0)"/>
<rect x="583.62" y="315.33" width="23.94" height="23.88" fill="rgb(219,165,0)"/>
<rect x="606.56" y="315.33" width="22.94" height="23.88" fill="rgb(221,168,0)"/>
<rect x="377.18" y="338.21" width="23.94" height="23.88" fill="rgb(192,96,0)"/>
<rect x="400.12" y="338.21" width="23.94" height="23.88" fill="rgb(192,96,0)"/>
<rect x="423.06" y="338.21" width="23.94" height="23.88" fill="rgb(193,100,0)"/>
<rect x="445.99" y="338.21" width="23.94" height="23.88" fill="rgb(200,115,0)"/>
<rect x="468.93" y="338.21" width="23.94" height="23.88" fill="rgb(195,103,0)"/>
<rect x="491.87" y="338.21" width="23.94" height="23.88" fill="rgb(200,117,0)"/>
<rect x="514.81" y="338.21" width="23.94" height="23.88" fill="rgb(198,112,0)"/>
<rect x="537.75" y="338.21" width="23.94" height="23.88" fill="rgb(202,121,0)"/>
<rect x="560.69" y="338.21" width="23.94" height="23.88" fill="rgb(207,135,0)"/>
<rect x="583.62" y="338.21" width="23.94" height="23.88" fill="rgb(219,165,0)"/>
<rect x="606.56" y="338.21" width="22.94" height="23.88" fill="rgb(221,170,0)"/>
<rect x="377.18" y="361.09" width="23.94" height="22.88" fill="rgb(198,110,0)"/>
<rect x="400.12" y="361.09" width="23.94" height="22.88" fill="rgb(198,112,0)"/>
<rect x="423.06" y="361.09" width="23.94" height="22.88" fill="rgb(200,117,0)"/>
<rect x="445.99" y="361.09" width="23.94" height="22.88" fill="rgb(203,124,0)"/>
<rect x="468.93" y="361.09" width="23.94" height="22.88" fill="rgb(202,121,0)"/>
<rect x="491.87" y="361.09" width="23.94" height="22.88" fill="rgb(205,130,0)"/>
<rect x="514.81" y="361.09" width="23.94" height="22.88" fill="rgb(211,144,0)"/>
<rect x="537.75" y="361.09" width="23.94" height="22.88" fill="rgb(211,144,0)"/>
<rect x="560.69" y="361.09" width="23.94" height="22.88" fill="rgb(216,158,0)"/>
<rect x="583.62" y="361.09" width="23.94" height="22.88" fill="rgb(224,177,0)"/>
<rect x="606.56" y="361.09" width="22.94" height="22.88" fill="rgb(224,176,0)"/>
<text transform="translate(388.65,235.24) scale(1,1.084)" y="3.09" class="c" font-size="9.39">0.61</text>
<text transform="translate(411.59,235.24) scale(1,1.084)" y="3.09" class="c" font-size="9.39">0.61</text>
<text transform="translate(434.53,235.24) scale(1,1.084)" y="3.09" class="c" font-size="9.39">0.46</text>
<text transform="translate(457.46,235.24) scale(1,1.084)" y="3.09" class="c" font-size="9.39">0.57</text>
<text transform="translate(480.40,235.24) scale(1,1.084)" y="3.09" class="c" font-size="9.39">0.52</text>
<text transform="translate(503.34,235.24) scale(1,1.084)" y="3.09" class="c" font-size="9.39">0.49</text>
<text transform="translate(526.28,235.24) scale(1,1.084)" y="3.09" class="c" font-size="9.39">0.48</text>
<text transform="translate(549.22,235.24) scale(1,1.084)" y="3.09" class="c" font-size="9.39">0.34</text>
<text transform="translate(572.15,235.24) scale(1,1.084)" y="3.09" class="c" font-size="9.39">0.27</text>
<text transform="translate(595.09,235.24) scale(1,1.084)" y="3.09" class="c" font-size="9.39">0.15</text>
<text transform="translate(618.03,235.24) scale(1,1.084)" y="3.09" class="c" font-size="9.39">0.15</text>
<text transform="translate(388.65,258.12) scale(1,1.084)" y="3.09" class="c" font-size="9.39">0.84</text>
<text transform="translate(411.59,258.12) scale(1,1.084)" y="3.09" class="c" font-size="9.39">0.84</text>
<text transform="translate(434.53,258.12) scale(1,1.084)" y="3.09" class="c" font-size="9.39">0.75</text>
<text transform="translate(457.46,258.12) scale(1,1.084)" y="3.09" class="c" font-size="9.39">0.70</text>
<text transform="translate(480.40,258.12) scale(1,1.084)" y="3.09" class="c" font-size="9.39">0.73</text>
<text transform="translate(503.34,258.12) scale(1,1.084)" y="3.09" class="c" font-size="9.39">0.68</text>
<text transform="translate(526.28,258.12) scale(1,1.084)" y="3.09" class="c" font-size="9.39">0.66</text>
<text transform="translate(549.22,258.12) scale(1,1.084)" y="3.09" class="c" font-size="9.39">0.66</text>
<text transform="translate(572.15,258.12) scale(1,1.084)" y="3.09" class="c" font-size="9.39">0.49</text>
<text transform="translate(595.09,258.12) scale(1,1.084)" y="3.09" class="c" font-size="9.39">0.34</text>
<text transform="translate(618.03,258.12) scale(1,1.084)" y="3.09" class="c" font-size="9.39">0.38</text>
<text transform="translate(388.65,281.00) scale(1,1.084)" y="3.09" class="c" font-size="9.39">0.13</text>
<text transform="translate(411.59,281.00) scale(1,1.084)" y="3.09" class="c" font-size="9.39">0.14</text>
<text transform="translate(434.53,281.00) scale(1,1.084)" y="3.09" class="c" font-size="9.39">0.28</text>
<text transform="translate(457.46,281.00) scale(1,1.084)" y="3.09" class="c" font-size="9.39">0.13</text>
<text transform="translate(480.40,281.00) scale(1,1.084)" y="3.09" class="c" font-size="9.39">0.12</text>
<text transform="translate(503.34,281.00) scale(1,1.084)" y="3.09" class="c" font-size="9.39">0.14</text>
<text transform="translate(526.28,281.00) scale(1,1.084)" y="3.09" class="c" font-size="9.39">0.11</text>
<text transform="translate(549.22,281.00) scale(1,1.084)" y="3.09" class="c" font-size="9.39">0.05</text>
<text transform="translate(572.15,281.00) scale(1,1.084)" y="3.09" class="c" font-size="9.39">0.05</text>
<text transform="translate(595.09,281.00) scale(1,1.084)" y="3.09" class="c" font-size="9.39">0.05</text>
<text transform="translate(618.03,281.00) scale(1,1.084)" y="3.09" class="c" font-size="9.39">0.05</text>
<text transform="translate(388.65,303.88) scale(1,1.084)" y="3.09" class="c" font-size="9.39">0.88</text>
<text transform="translate(411.59,303.88) scale(1,1.084)" y="3.09" class="c" font-size="9.39">0.88</text>
<text transform="translate(434.53,303.88) scale(1,1.084)" y="3.09" class="c" font-size="9.39">0.70</text>
<text transform="translate(457.46,303.88) scale(1,1.084)" y="3.09" class="c" font-size="9.39">0.79</text>
<text transform="translate(480.40,303.88) scale(1,1.084)" y="3.09" class="c" font-size="9.39">0.76</text>
<text transform="translate(503.34,303.88) scale(1,1.084)" y="3.09" class="c" font-size="9.39">0.62</text>
<text transform="translate(526.28,303.88) scale(1,1.084)" y="3.09" class="c" font-size="9.39">0.72</text>
<text transform="translate(549.22,303.88) scale(1,1.084)" y="3.09" class="c" font-size="9.39">0.65</text>
<text transform="translate(572.15,303.88) scale(1,1.084)" y="3.09" class="c" font-size="9.39">0.51</text>
<text transform="translate(595.09,303.88) scale(1,1.084)" y="3.09" class="c" font-size="9.39">0.31</text>
<text transform="translate(618.03,303.88) scale(1,1.084)" y="3.09" class="c" font-size="9.39">0.33</text>
<text transform="translate(388.65,326.77) scale(1,1.084)" y="3.09" class="c" font-size="9.39">0.95</text>
<text transform="translate(411.59,326.77) scale(1,1.084)" y="3.09" class="c" font-size="9.39">0.95</text>
<text transform="translate(434.53,326.77) scale(1,1.084)" y="3.09" class="c" font-size="9.39">0.93</text>
<text transform="translate(457.46,326.77) scale(1,1.084)" y="3.09" class="c" font-size="9.39">0.91</text>
<text transform="translate(480.40,326.77) scale(1,1.084)" y="3.09" class="c" font-size="9.39">0.90</text>
<text transform="translate(503.34,326.77) scale(1,1.084)" y="3.09" class="c" font-size="9.39">0.77</text>
<text transform="translate(526.28,326.77) scale(1,1.084)" y="3.09" class="c" font-size="9.39">0.86</text>
<text transform="translate(549.22,326.77) scale(1,1.084)" y="3.09" class="c" font-size="9.39">0.81</text>
<text transform="translate(572.15,326.77) scale(1,1.084)" y="3.09" class="c" font-size="9.39">0.77</text>
<text transform="translate(595.09,326.77) scale(1,1.084)" y="3.09" class="c" font-size="9.39">0.56</text>
<text transform="translate(618.03,326.77) scale(1,1.084)" y="3.09" class="c" font-size="9.39">0.54</text>
<text transform="translate(388.65,349.65) scale(1,1.084)" y="3.09" class="c" font-size="9.39">0.95</text>
<text transform="translate(411.59,349.65) scale(1,1.084)" y="3.09" class="c" font-size="9.39">0.95</text>
<text transform="translate(434.53,349.65) scale(1,1.084)" y="3.09" class="c" font-size="9.39">0.93</text>
<text transform="translate(457.46,349.65) scale(1,1.084)" y="3.09" class="c" font-size="9.39">0.84</text>
<text transform="translate(480.40,349.65) scale(1,1.084)" y="3.09" class="c" font-size="9.39">0.91</text>
<text transform="translate(503.34,349.65) scale(1,1.084)" y="3.09" class="c" font-size="9.39">0.83</text>
<text transform="translate(526.28,349.65) scale(1,1.084)" y="3.09" class="c" font-size="9.39">0.86</text>
<text transform="translate(549.22,349.65) scale(1,1.084)" y="3.09" class="c" font-size="9.39">0.81</text>
<text transform="translate(572.15,349.65) scale(1,1.084)" y="3.09" class="c" font-size="9.39">0.73</text>
<text transform="translate(595.09,349.65) scale(1,1.084)" y="3.09" class="c" font-size="9.39">0.56</text>
<text transform="translate(618.03,349.65) scale(1,1.084)" y="3.09" class="c" font-size="9.39">0.53</text>
<text transform="translate(388.65,372.53) scale(1,1.084)" y="3.09" class="c" font-size="9.39">0.87</text>
<text transform="translate(411.59,372.53) scale(1,1.084)" y="3.09" class="c" font-size="9.39">0.86</text>
<text transform="translate(434.53,372.53) scale(1,1.084)" y="3.09" class="c" font-size="9.39">0.83</text>
<text transform="translate(457.46,372.53) scale(1,1.084)" y="3.09" class="c" font-size="9.39">0.79</text>
<text transform="translate(480.40,372.53) scale(1,1.084)" y="3.09" class="c" font-size="9.39">0.81</text>
<text transform="translate(503.34,372.53) scale(1,1.084)" y="3.09" class="c" font-size="9.39">0.76</text>
<text transform="translate(526.28,372.53) scale(1,1.084)" y="3.09" class="c" font-size="9.39">0.68</text>
<text transform="translate(549.22,372.53) scale(1,1.084)" y="3.09" class="c" font-size="9.39">0.68</text>
<text transform="translate(572.15,372.53) scale(1,1.084)" y="3.09" class="c" font-size="9.39">0.60</text>
<text transform="translate(595.09,372.53) scale(1,1.084)" y="3.09" class="c" font-size="9.39">0.49</text>
<text transform="translate(618.03,372.53) scale(1,1.084)" y="3.09" class="c" font-size="9.39">0.50</text>
<rect x="377.18" y="223.80" width="252.32" height="160.17" class="bd" fill="none"/>
<line x1="372.58" y1="235.24" x2="377.18" y2="235.24" class="tk"/>
<text x="370.98" y="238.78" class="rl" font-size="8.48">hESC</text>
<line x1="372.58" y1="258.12" x2="377.18" y2="258.12" class="tk"/>
<text x="370.98" y="261.66" class="rl" font-size="8.48">hHEP</text>
<line x1="372.58" y1="281.00" x2="377.18" y2="281.00" class="tk"/>
<text x="370.98" y="284.54" class="rl" font-size="8.48">mDC</text>
<line x1="372.58" y1="303.88" x2="377.18" y2="303.88" class="tk"/>
<text x="370.98" y="307.42" class="rl" font-size="8.48">mESC</text>
<line x1="372.58" y1="326.77" x2="377.18" y2="326.77" class="tk"/>
<text x="370.98" y="330.30" class="rl" font-size="8.48">mHSC-E</text>
<line x1="372.58" y1="349.65" x2="377.18" y2="349.65" class="tk"/>
<text x="370.98" y="353.19" class="rl" font-size="8.48">mHSC-GM</text>
<line x1="372.58" y1="372.53" x2="377.18" y2="372.53" class="tk"/>
<text x="370.98" y="376.07" class="rl" font-size="8.48">mHSC-L</text>
<text x="503.74" y="208.70" class="tt" font-size="10.86">TFs with top-varing 1000 genes</text>
<line x1="388.65" y1="383.97" x2="388.65" y2="387.47" class="tk"/>
<text transform="translate(391.15,395.17) rotate(-45)" class="xl" font-size="8.48">HGATLink</text>
<line x1="411.59" y1="383.97" x2="411.59" y2="387.47" class="tk"/>
<text transform="translate(414.09,395.17) rotate(-45)" class="xl" font-size="8.48">GMFGRN</text>
<line x1="434.53" y1="383.97" x2="434.53" y2="387.47" class="tk"/>
<text transform="translate(437.03,395.17) rotate(-45)" class="xl" font-size="8.48">IGEGRNS</text>
<line x1="457.46" y1="383.97" x2="457.46" y2="387.47" class="tk"/>
<text transform="translate(459.96,395.17) rotate(-45)" class="xl" font-size="8.48">GATCL</text>
<line x1="480.40" y1="383.97" x2="480.40" y2="387.47" class="tk"/>
<text transform="translate(482.90,395.17) rotate(-45)" class="xl" font-size="8.48">GENELink</text>
<line x1="503.34" y1="383.97" x2="503.34" y2="387.47" class="tk"/>
<text transform="translate(505.84,395.17) rotate(-45)" class="xl" font-size="8.48">GNNLink</text>
<line x1="526.28" y1="383.97" x2="526.28" y2="387.47" class="tk"/>
<text transform="translate(528.78,395.17) rotate(-45)" class="xl" font-size="8.48">DGRNS</text>
<line x1="549.22" y1="383.97" x2="549.22" y2="387.47" class="tk"/>
<text transform="translate(551.72,395.17) rotate(-45)" class="xl" font-size="8.48">GNE</text>
<line x1="572.15" y1="383.97" x2="572.15" y2="387.47" class="tk"/>
<text transform="translate(574.65,395.17) rotate(-45)" class="xl" font-size="8.48">CNNC</text>
<line x1="595.09" y1="383.97" x2="595.09" y2="387.47" class="tk"/>
<text transform="translate(597.59,395.17) rotate(-45)" class="xl" font-size="8.48">SCODE</text>
<line x1="618.03" y1="383.97" x2="618.03" y2="387.47" class="tk"/>
<text transform="translate(620.53,395.17) rotate(-45)" class="xl" font-size="8.48">GENIE3</text>
<text x="503.34" y="437.30" class="ax" font-size="9.39">AUPRC</text>
<defs><linearGradient id="g" x1="0" y1="1" x2="0" y2="0"><stop offset="0" stop-color="rgb(255,255,0)"/><stop offset="1" stop-color="rgb(192,96,0)"/></linearGradient></defs>
<rect x="650.55" y="28.53" width="15.85" height="346.01" fill="url(#g)" class="bd"/>
<line x1="650.55" y1="317.43" x2="652.85" y2="317.43" class="tk"/>
<line x1="664.10" y1="317.43" x2="666.40" y2="317.43" class="tk"/>
<text x="671.60" y="320.63" class="cb">0.2</text>
<line x1="650.55" y1="240.43" x2="652.85" y2="240.43" class="tk"/>
<line x1="664.10" y1="240.43" x2="666.40" y2="240.43" class="tk"/>
<text x="671.60" y="243.63" class="cb">0.4</text>
<line x1="650.55" y1="163.43" x2="652.85" y2="163.43" class="tk"/>
<line x1="664.10" y1="163.43" x2="666.40" y2="163.43" class="tk"/>
<text x="671.60" y="166.63" class="cb">0.6</text>
<line x1="650.55" y1="86.43" x2="652.85" y2="86.43" class="tk"/>
<line x1="664.10" y1="86.43" x2="666.40" y2="86.43" class="tk"/>
<text x="671.60" y="89.63" class="cb">0.8</text>
</svg>
</body></html>
